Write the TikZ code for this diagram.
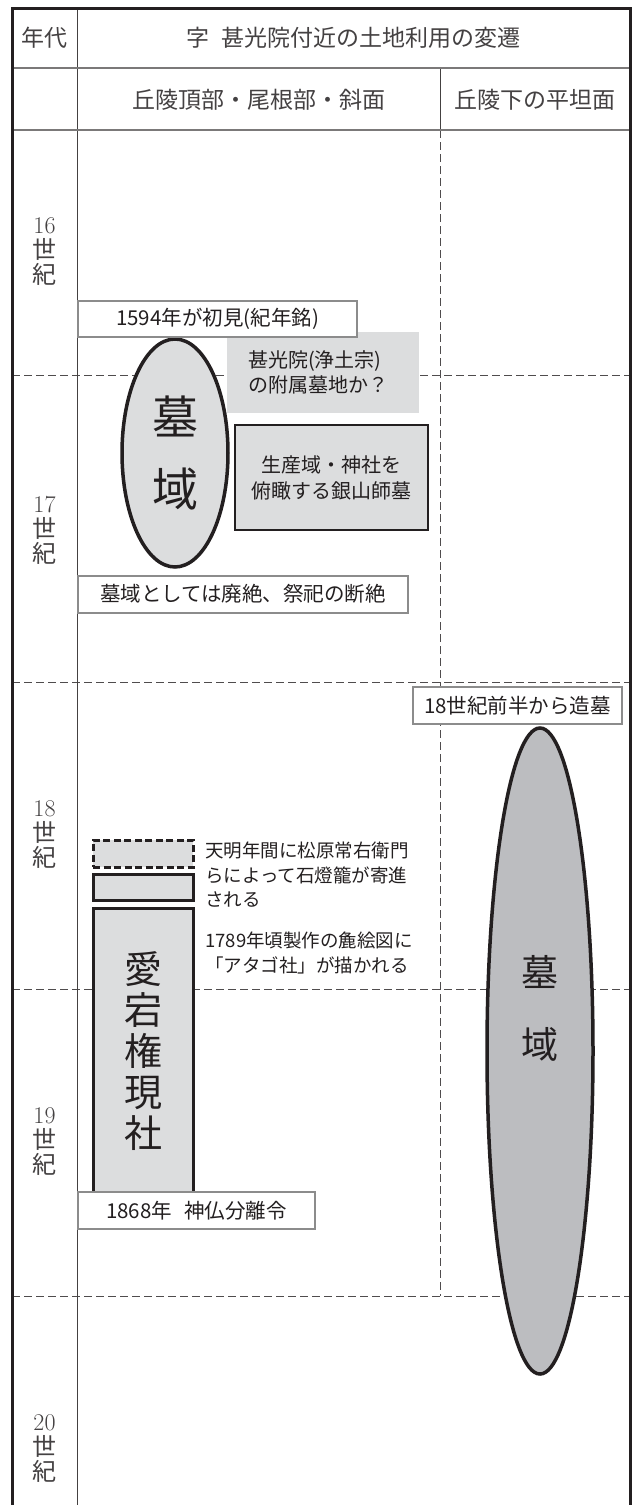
\documentclass[tikz,border=0pt]{standalone}
\usepackage{fontspec}
\usetikzlibrary{shapes.geometric}
\newfontfamily\jp{Noto Sans CJK JP}
\definecolor{ink}{HTML}{231F20}
\definecolor{lgray}{HTML}{DCDDDE}
\definecolor{mgray}{HTML}{BCBDC0}
\definecolor{bgray}{HTML}{8C8C8C}
\tikzset{
  frame/.style={line width=3pt, draw=ink},
  rowline/.style={line width=1.5pt, draw=ink!60},
  colline/.style={line width=1pt, draw=ink!85},
  grid/.style={line width=1pt, draw=ink!80, dash pattern=on 8pt off 4pt},
  hdr/.style={inner sep=0pt, text=ink!85, font=\jp\fontsize{23}{26}\selectfont},
  cent/.style={inner sep=0pt, align=center, text=ink!85, font=\fontsize{24}{25}\selectfont},
  note/.style={draw=bgray, line width=2pt, fill=white, inner sep=0pt, text=ink, font=\jp\fontsize{20.5}{24}\selectfont},
  blk/.style={draw=ink, line width=2.5pt, fill=lgray, inner sep=0pt},
  tomb/.style={ellipse, draw=ink, line width=3.5pt, inner sep=0pt},
  body/.style={inner sep=0pt, align=left, text=ink, font=\jp\fontsize{18.5}{24.5}\selectfont}
}
\begin{document}
\begin{tikzpicture}[x=1pt,y=-1pt]
\useasboundingbox (0,0) rectangle (632,1505);
% century grid
\foreach \yy in {375,682,989,1296} \draw[grid] (12,\yy) -- (630,\yy);
\draw[grid] (440,130) -- (440,1296);
% table lines
\draw[colline] (77,8) -- (77,1505);
\draw[colline] (440,68) -- (440,130);
\draw[rowline] (12,68) -- (630,68);
\draw[rowline] (12,130) -- (630,130);
\draw[frame] (12,1505) -- (12,8) -- (630,8) -- (630,1505);
% headers
\node[hdr] (hyear) at (44.5,38) {年代};
\node[hdr] (htitle) at (353.5,38) {字\hspace{0.5em}甚光院付近の土地利用の変遷};
\node[hdr] (hslope) at (258.5,100) {丘陵頂部・尾根部・斜面};
\node[hdr] (hflat) at (535,100) {丘陵下の平坦面};
% century labels
\node[cent] (c16) at (44.5,252) {16\\{\jp 世}\\{\jp 紀}};
\node[cent] (c17) at (44.5,530) {17\\{\jp 世}\\{\jp 紀}};
\node[cent] (c18) at (44.5,835) {18\\{\jp 世}\\{\jp 紀}};
\node[cent] (c19) at (44.5,1142) {19\\{\jp 世}\\{\jp 紀}};
\node[cent] (c20) at (44.5,1449) {20\\{\jp 世}\\{\jp 紀}};
% 16-17th century
\node[fill=lgray, minimum width=192pt, minimum height=81pt, inner xsep=21pt, inner ysep=0pt,
      text width=150pt, align=left, text=ink, font=\jp\fontsize{20}{24.5}\selectfont] (njiko) at (323,372.5) {甚光院(浄土宗)\\の附属墓地か？};
\node[tomb, fill=lgray, minimum width=106pt, minimum height=228pt, align=center, text=ink,
      font=\jp\fontsize{46}{72}\selectfont] (ltomb) at (175,453) {墓\\域};
\node[note, minimum width=279pt, minimum height=36pt] (n1594) at (217.5,319) {1594年が初見(紀年銘)};
\node[blk, minimum width=193pt, minimum height=105pt, align=center, text=ink,
      font=\jp\fontsize{20}{26}\selectfont] (bginzan) at (331.5,477.5) {生産域・神社を\\俯瞰する銀山師墓};
\node[note, minimum width=330pt, minimum height=37pt] (nend) at (243,594) {墓域としては廃絶、祭祀の断絶};
% plain tombs
\node[tomb, fill=mgray, minimum width=106pt, minimum height=646pt] (rtomb) at (540,1051) {};
\node[inner sep=0pt, align=center, text=ink, font=\jp\fontsize{37}{72}\selectfont] (rtombtxt) at (540,1008) {墓\\域};
\node[note, minimum width=209pt, minimum height=37pt] (n18) at (517.5,705.5) {18世紀前半から造墓};
% Atago shrine
\node[blk, line width=3pt, dash pattern=on 7pt off 3.5pt, minimum width=100pt, minimum height=27pt] (lantern) at (143,853.5) {};
\node[blk, line width=3pt, minimum width=100pt, minimum height=26pt] (base) at (143,887) {};
\node[blk, line width=3pt, minimum width=100pt, minimum height=287pt, align=center, text=ink,
      font=\jp\fontsize{38}{41}\selectfont] (shrine) at (143,1051.5) {愛\\宕\\権\\現\\社};
\node[note, minimum width=237pt, minimum height=37pt] (n1868) at (196.5,1210.5) {1868年\hspace{0.6em}神仏分離令};
\node[body, anchor=west] (ttenmei) at (205,875) {天明年間に松原常右衛門\\らによって石燈籠が寄進\\される};
\node[body, anchor=west] (t1789) at (205,953) {1789年頃製作の麁絵図に\\「アタゴ社」が描かれる};
\end{tikzpicture}
\end{document}
